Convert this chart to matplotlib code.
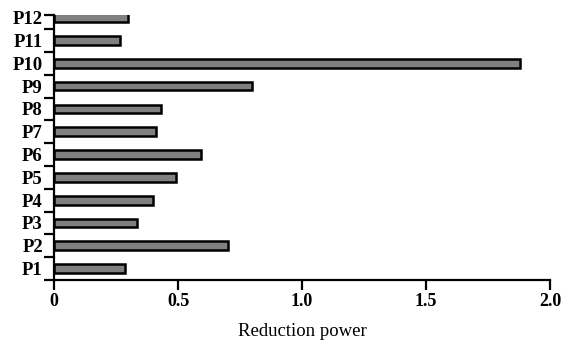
import matplotlib
matplotlib.use("Agg")
import matplotlib.pyplot as plt
import numpy as np

categories = ["P1", "P2", "P3", "P4", "P5", "P6", "P7", "P8", "P9", "P10", "P11", "P12"]
values = [0.287, 0.70, 0.333, 0.40, 0.492, 0.593, 0.41, 0.433, 0.80, 1.88, 0.266, 0.297]
xticks = [0, 0.5, 1.0, 1.5, 2.0]
xticklabels = ["0", "0.5", "1.0", "1.5", "2.0"]

plt.rcParams['font.family'] = ['Liberation Serif', 'DejaVu Serif']

fig = plt.figure(figsize=(5.69, 3.45), dpi=100)
ax = fig.add_axes([54/569, 65/345, (550-54)/569, (280-15)/345])

y = np.arange(len(categories))
ax.barh(y, values, height=0.38, color="#808080", edgecolor="black", linewidth=1.8)

ax.set_xlim(0, 2.0)
ax.set_ylim(-0.5, len(categories) - 1 + 0.12)

ax.set_yticks(y)
ax.set_yticklabels(categories, fontsize=13.5, fontweight="bold")
ax.tick_params(axis="y", which="major", length=0, pad=8)
minor = list(np.arange(-0.5, len(categories) - 1, 1.0)) + [len(categories) - 1 + 0.12]
ax.set_yticks(minor, minor=True)
ax.tick_params(axis="y", which="minor", length=7, width=1.6, direction="out")

ax.set_xticks(xticks)
ax.set_xticklabels(xticklabels, fontsize=13, fontweight="bold")
ax.tick_params(axis="x", length=7, width=1.6, direction="out", pad=2)

ax.set_xlabel("Reduction power", fontsize=13.5, labelpad=10)

for s in ["top", "right"]:
    ax.spines[s].set_visible(False)
for s in ["left", "bottom"]:
    ax.spines[s].set_linewidth(1.6)

fig.savefig("out.png", dpi=100)
